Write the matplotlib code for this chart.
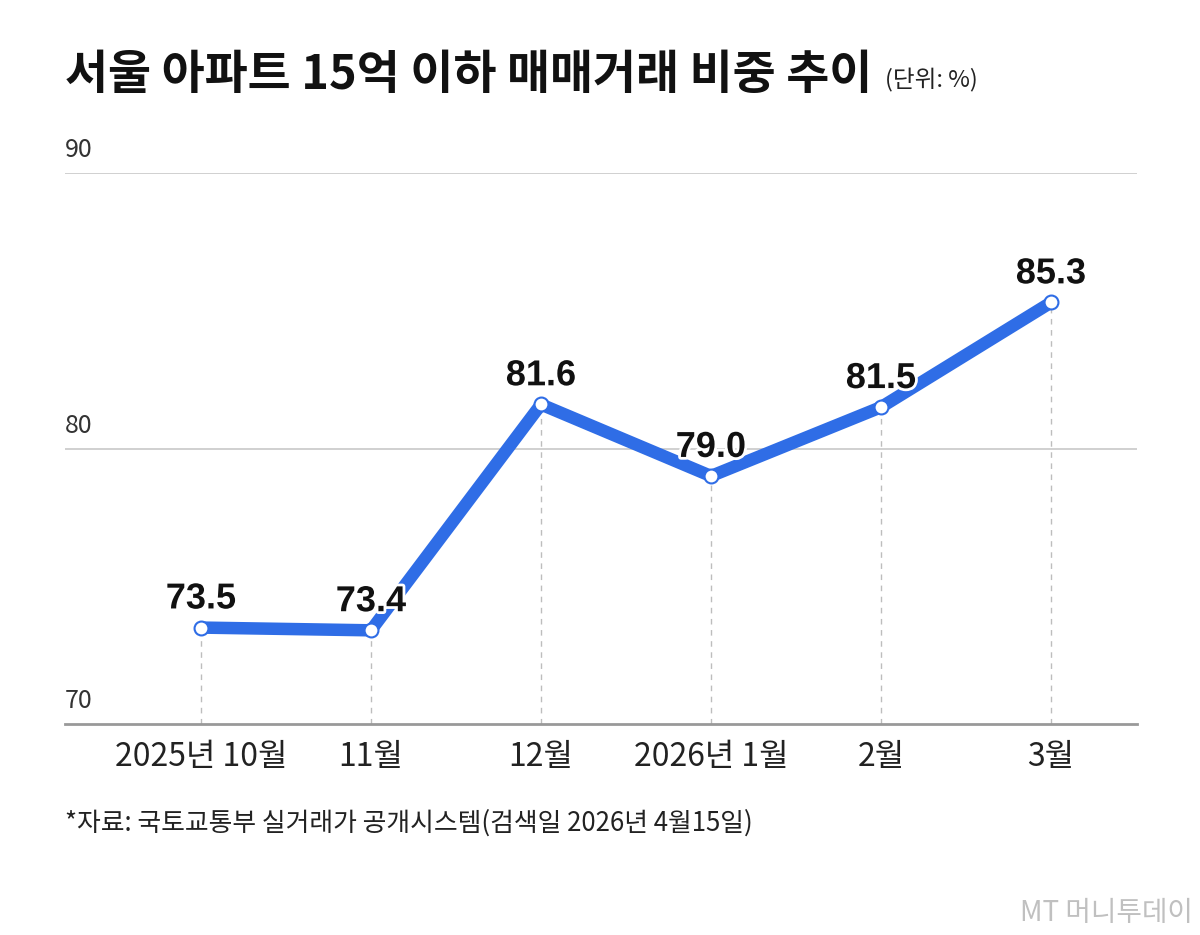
import matplotlib
matplotlib.use("Agg")
import matplotlib.pyplot as plt
import matplotlib.patheffects as pe

plt.rcParams['font.family'] = ['Noto Sans CJK KR', 'DejaVu Sans']

months = ['2025년 10월', '11월', '12월', '2026년 1월', '2월', '3월']
values = [73.5, 73.4, 81.6, 79.0, 81.5, 85.3]
value_labels = ['73.5', '73.4', '81.6', '79.0', '81.5', '85.3']
yticks = [70, 80, 90]

W, H = 1200, 935
fig = plt.figure(figsize=(W / 100, H / 100), dpi=100)
ax = fig.add_axes([65 / W, 1 - 724 / H, (1137 - 65) / W, (724 - 173) / H])

x = list(range(len(months)))
ax.set_xlim(-0.8, 5.506)
ax.set_ylim(70, 90)

# grid lines
for yv in yticks[1:]:
    ax.axhline(yv, color='#c8c8c8', lw=1.2, zorder=1)
for s in ['top', 'right', 'left']:
    ax.spines[s].set_visible(False)
ax.spines['bottom'].set_color('#999999')
ax.spines['bottom'].set_linewidth(2)

# dashed verticals
for xi, v in zip(x, values):
    ax.plot([xi, xi], [70, v], color='#bdbdbd', lw=1, ls=(0, (4, 4)), zorder=2)

ax.plot(x, values, color='#2f6de6', lw=9, solid_capstyle='butt', zorder=3)
ax.plot(x, values, 'o', ms=10, mfc='white', mec='#2f6de6', mew=1.5, zorder=4)

for xi, v, lab in zip(x, values, value_labels):
    ax.annotate(lab, (xi, v), xytext=(0, 8), textcoords='offset points',
                ha='center', va='bottom', fontsize=26, fontweight='bold',
                family=['Liberation Sans', 'DejaVu Sans'], color='#111111', zorder=5,
                path_effects=[pe.withStroke(linewidth=4, foreground='white')])

ax.set_yticks([])
ax.set_xticks(x)
ax.set_xticklabels(months, fontsize=23, color='#222222')
ax.tick_params(axis='x', length=0, pad=12)

for yv in yticks:
    ax.annotate(str(yv), (0, yv), xycoords=('axes fraction', 'data'),
                xytext=(0, 7), textcoords='offset points', ha='left', va='bottom',
                fontsize=18, color='#333333')

fig.text(65 / W, 1 - 75 / H, '서울 아파트 15억 이하 매매거래 비중 추이', fontsize=33.7,
         fontweight='bold', color='#111111', va='center', ha='left')
fig.text(885 / W, 1 - 80 / H, '(단위: %)', fontsize=17, color='#222222', va='center', ha='left')
fig.text(65 / W, 1 - 823 / H, '*자료: 국토교통부 실거래가 공개시스템(검색일 2026년 4월15일)',
         fontsize=18.6, color='#222222', va='center', ha='left')
fig.text(1193 / W, 1 - 913 / H, 'MT 머니투데이', fontsize=20, color='#c0c0c0',
         va='center', ha='right', style='italic')

fig.savefig('out.png', dpi=100)
